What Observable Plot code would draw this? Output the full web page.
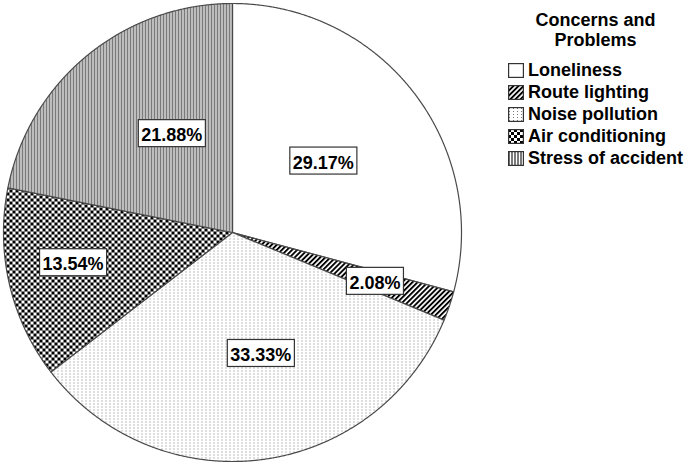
<!DOCTYPE html>
<html><head><meta charset="utf-8">
<script src="https://cdn.jsdelivr.net/npm/d3@7"></script>
<script src="https://cdn.jsdelivr.net/npm/@observablehq/plot@0.6"></script>
<style>
body{margin:0;background:#fff;font-family:"Liberation Sans",Arial,sans-serif;}
#wrap{position:relative;width:685px;height:463px;overflow:hidden;}
#chart{position:absolute;left:0;top:0;}
#legend{position:absolute;left:505px;top:10px;width:181px;}
#legend .lt{font-weight:bold;font-size:18px;line-height:20px;text-align:center;color:#000;}
#legend .items{margin-top:9px;}
#legend .item{position:relative;height:22px;}
#legend .item svg{position:absolute;left:3px;top:4px;}
#legend .item span{position:absolute;left:23px;top:0;line-height:22px;font-size:18px;font-weight:bold;color:#000;white-space:nowrap;}
</style></head><body>
<svg width="0" height="0" style="position:absolute"><defs>
  <pattern id="pat0" patternUnits="userSpaceOnUse" width="4" height="4"><rect width="4" height="4" fill="#fff"/></pattern>
  <pattern id="pat1" patternUnits="userSpaceOnUse" width="3.6" height="3.6" patternTransform="rotate(45)"><rect width="3.6" height="3.6" fill="#fff"/><rect width="1.9" height="3.6" fill="#000"/></pattern>
  <pattern id="pat2" patternUnits="userSpaceOnUse" width="4" height="3"><rect width="4" height="3" fill="#fff"/><rect x="1" y="1" width="1" height="1" fill="#7a7a7a"/></pattern>
  <pattern id="pat3" patternUnits="userSpaceOnUse" width="6" height="6"><rect width="6" height="6" fill="#fff"/><rect width="3" height="3" fill="#000"/><rect x="3" y="3" width="3" height="3" fill="#000"/></pattern>
  <pattern id="pat4" patternUnits="userSpaceOnUse" width="3" height="3"><rect width="3" height="3" fill="#fff"/><rect width="2" height="3" fill="#7a7a7a"/></pattern>
</defs></svg>
<div id="wrap"><div id="chart"></div><div id="legend"></div></div>
<script>
// ---- data ----
const categories = ["Loneliness", "Route lighting", "Noise pollution", "Air conditioning", "Stress of accident"];
const percents = [29.17, 2.08, 33.33, 13.54, 21.88];
const legendTitle = ["Concerns and", "Problems"];

// ---- layout / style ----
const W = 465, H = 463, CX = 232, CY = 232, R = 229;
const patternFills = ["url(#pat0)", "url(#pat1)", "url(#pat2)", "url(#pat3)", "url(#pat4)"];
// label placement: radius fraction and angle nudge (degrees)
const labelLayout = [
  {r: 0.50, da: 0}, {r: 0.66, da: 0.8}, {r: 0.55, da: -5.5}, {r: 0.71, da: 1.8}, {r: 0.50, da: 7.4}
];

const arcs = d3.pie().sort(null).value(d => d)(percents);

function slicePolygon(a) {
  const pts = [{x: 0, y: 0}];
  const n = Math.max(4, Math.ceil((a.endAngle - a.startAngle) / 0.004));
  for (let k = 0; k <= n; k++) {
    const t = a.startAngle + (a.endAngle - a.startAngle) * k / n;
    pts.push({x: Math.sin(t), y: Math.cos(t)});
  }
  return pts;
}

const labels = arcs.map((a, i) => {
  const mid = (a.startAngle + a.endAngle) / 2 + labelLayout[i].da * Math.PI / 180;
  const rr = labelLayout[i].r;
  return {x: rr * Math.sin(mid), y: rr * Math.cos(mid), text: percents[i].toFixed(2) + "%"};
});

const marks = arcs.map((a, i) =>
  Plot.line(slicePolygon(a), {x: "x", y: "y", curve: "linear-closed", fill: patternFills[i], stroke: "#4a4a4a", strokeWidth: 1.2, strokeLinejoin: "round"})
);
marks.push(Plot.text(labels, {x: "x", y: "y", text: "text", fontSize: 18, fontWeight: "bold", fill: "#000", className: "pct",
  fontFamily: "Liberation Sans, Arial, sans-serif"}));

const chart = Plot.plot({
  width: W, height: H, margin: 0,
  x: {domain: [-CX / R, (W - CX) / R], axis: null},
  y: {domain: [-(H - CY) / R, CY / R], axis: null},
  style: {background: "transparent", fontFamily: "Liberation Sans, Arial, sans-serif"},
  marks
});
document.getElementById("chart").appendChild(chart);

// boxes behind the percentage labels
document.querySelectorAll(".pct text").forEach(t => {
  const b = t.getBBox();
  const rect = document.createElementNS("http://www.w3.org/2000/svg", "rect");
  rect.setAttribute("x", b.x - 3);
  rect.setAttribute("y", b.y - 5.5);
  rect.setAttribute("width", b.width + 6);
  rect.setAttribute("height", b.height + 7);
  rect.setAttribute("fill", "#fff");
  rect.setAttribute("stroke", "#333");
  rect.setAttribute("stroke-width", "1.2");
  if (t.getAttribute("transform")) rect.setAttribute("transform", t.getAttribute("transform"));
  t.parentNode.insertBefore(rect, t);
});

// legend
const leg = document.getElementById("legend");
const lt = document.createElement("div");
lt.className = "lt";
lt.innerHTML = legendTitle.join("<br>");
leg.appendChild(lt);
const items = document.createElement("div");
items.className = "items";
categories.forEach((c, i) => {
  const it = document.createElement("div");
  it.className = "item";
  it.innerHTML = `<svg width="16" height="15"><rect x="0.6" y="0.6" width="14.8" height="13.8" fill="${patternFills[i]}" stroke="#333" stroke-width="1.2"/></svg><span></span>`;
  it.querySelector("span").textContent = c;
  items.appendChild(it);
});
leg.appendChild(items);
</script>
</body></html>
